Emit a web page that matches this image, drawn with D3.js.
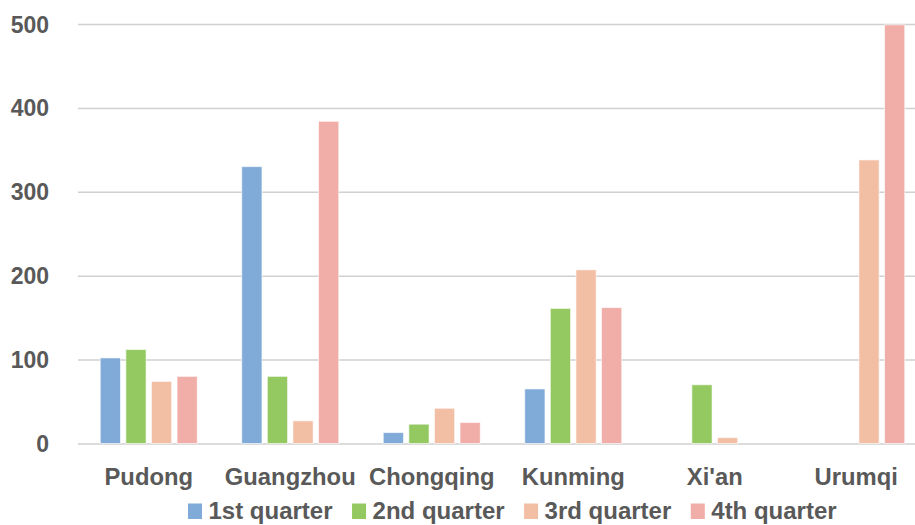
<!DOCTYPE html>
<html>
<head>
<meta charset="utf-8">
<script src="https://cdn.jsdelivr.net/npm/d3@7"></script>
<style>
  html, body { margin: 0; padding: 0; background: #fff; }
  svg { display: block; font-family: "Liberation Sans", Arial, sans-serif; font-weight: bold; }
</style>
</head>
<body>
<svg id="chart" width="915" height="525"></svg>
<script>
// Cities along the category axis
const cities = ["Pudong", "Guangzhou", "Chongqing", "Kunming", "Xi'an", "Urumqi"];
// Quarterly series
const quarters = ["1st quarter", "2nd quarter", "3rd quarter", "4th quarter"];
const q1 = [102, 330, 13, 65, 0, 0];
const q2 = [112, 80, 23, 161, 70, 0];
const q3 = [74, 27, 42, 207, 7, 338];
const q4 = [80, 384, 25, 162, 0, 499];
const yTicks = [0, 100, 200, 300, 400, 500];
const colors = ["#80AAD7", "#94C962", "#F2BFA5", "#F1AEA8"];

const seriesValues = [q1, q2, q3, q4];

const W = 915, H = 525;
const svg = d3.select("#chart");
const textColor = "#595959";

const x0 = d3.scaleBand().domain(cities).range([78, 927]).paddingInner(0).paddingOuter(0);
const x1 = d3.scaleBand().domain(quarters)
  .range([x0.bandwidth() / 2 - 48.5, x0.bandwidth() / 2 + 48.5])
  .paddingInner(0.21).paddingOuter(0);
const y = d3.scaleLinear().domain([0, 500]).range([443.5, 24]);

// Value axis with horizontal gridlines
const yAxis = svg.append("g")
  .attr("transform", "translate(78,0)")
  .call(d3.axisLeft(y).tickValues(yTicks).tickSize(-(W - 78)).tickPadding(29));
yAxis.select(".domain").remove();
yAxis.selectAll(".tick line").attr("stroke", "#D0D0D0").attr("stroke-width", 1.5);
yAxis.selectAll(".tick text")
  .attr("fill", textColor)
  .style("font-size", "23px")
  .style("font-weight", "bold")
  .style("font-family", "'Liberation Sans', Arial, sans-serif")
  .attr("dy", "0.35em");

// Grouped bars
const groups = svg.append("g").selectAll("g")
  .data(cities)
  .join("g")
  .attr("transform", d => `translate(${x0(d)},0)`);

groups.selectAll("rect")
  .data((c, i) => quarters.map((q, k) => ({ q, k, v: seriesValues[k][i] })))
  .join("rect")
  .filter(d => d.v > 0)
  .attr("x", d => x1(d.q))
  .attr("width", x1.bandwidth())
  .attr("y", d => y(d.v))
  .attr("height", d => y(0) - y(d.v))
  .attr("fill", d => colors[d.k])
  .attr("stroke", "rgba(255,255,255,0.6)")
  .attr("stroke-width", 1);

// Category axis labels
const xAxis = svg.append("g")
  .attr("transform", `translate(0,${y(0)})`)
  .call(d3.axisBottom(x0).tickSize(0).tickPadding(0));
xAxis.select(".domain").remove();
xAxis.selectAll(".tick text")
  .attr("fill", textColor)
  .attr("y", 485 - y(0))
  .attr("dy", 0)
  .style("font-size", "23.8px")
  .style("font-weight", "bold")
  .style("font-family", "'Liberation Sans', Arial, sans-serif");

// Legend
const legend = svg.append("g");
let lx = 188;
quarters.forEach((q, k) => {
  legend.append("rect")
    .attr("x", lx).attr("y", 503.5)
    .attr("width", 14).attr("height", 15.5)
    .attr("fill", colors[k]);
  const t = legend.append("text")
    .attr("x", lx + 20.5).attr("y", 519)
    .attr("fill", textColor)
    .style("font-size", "24px")
    .text(q);
  lx += 20.5 + t.node().getComputedTextLength() + 19.5;
});
</script>
</body>
</html>
